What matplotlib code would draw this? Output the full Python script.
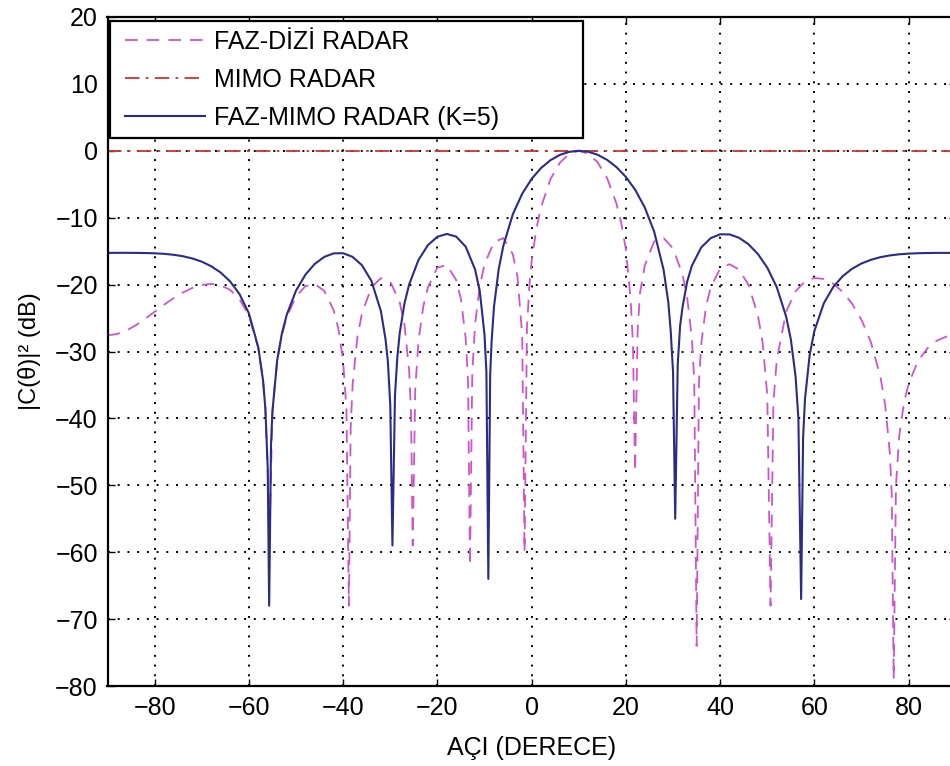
import matplotlib
matplotlib.use('Agg')
import matplotlib.pyplot as plt
from matplotlib.patches import Rectangle

plt.rcParams['font.family'] = ['Liberation Sans', 'DejaVu Sans']

# FAZ-DIZI RADAR (magenta, dashed)
angle_faz_dizi = [-90, -88, -86, -84, -82, -80, -78, -76, -74, -72, -70, -68, -66, -64, -62, -60, -58, -57, -56.5, -56,
                  -55.7, -55, -54, -53, -52, -50, -48, -46, -44, -42, -41, -40, -39.3, -38.78, -38.4, -38, -37, -36,
                  -34, -32, -30, -28, -27, -26, -25.6, -25.24, -24.7, -24, -23, -22, -20, -18, -16, -15, -14, -13.5,
                  -13.08, -12.6, -12, -11, -10, -8, -6, -4, -3, -2, -1.51, -1, -0.5, 0, 1, 2, 4, 6, 8, 10, 12, 14,
                  16, 18, 19, 20, 21, 21.5, 21.94, 22.5, 23, 24, 26, 28, 30, 32, 33, 34, 34.5, 35.01, 35.5, 36, 37,
                  38, 40, 42, 44, 46, 48, 49, 50, 50.69, 51.3, 52, 54, 56, 58, 60, 62, 64, 66, 68, 70, 72, 74, 75,
                  76, 76.4, 76.82, 77.3, 78, 79, 80, 82, 84, 86, 88, 90]
gain_faz_dizi = [-27.58, -27.40, -26.87, -26.08, -25.11, -24.06, -23.01, -22.04, -21.18, -20.50, -20.05, -19.89, -20.10,
                 -20.78, -22.16, -24.66, -29.51, -34.32, -38.55, -47.49, -60.0, -38.95, -31.41, -27.49, -24.92, -21.77,
                 -20.23, -19.93, -20.94, -23.85, -26.62, -31.49, -38.65, -68.0, -41.37, -35.05, -27.95, -24.27, -20.42,
                 -19.04, -19.57, -22.62, -25.94, -32.8, -39.14, -59.0, -35.62, -28.33, -23.28, -20.38, -17.46, -17.07,
                 -19.34, -22.19, -27.99, -34.39, -62.0, -33.23, -25.91, -20.19, -16.96, -13.65, -13.05, -15.45, -18.84,
                 -27.61, -60.0, -26.54, -20.29, -16.52, -11.65, -8.42, -4.23, -1.77, -0.43, 0.0, -0.42, -1.72, -4.06,
                 -7.91, -10.75, -14.78, -22.23, -28.82, -48.0, -26.73, -21.19, -17.16, -13.53, -13.05, -14.58, -18.46,
                 -21.94, -28.06, -34.21, -74.0, -34.55, -28.78, -23.26, -20.37, -17.61, -16.95, -17.75, -20.03, -24.57,
                 -28.62, -36.55, -68.0, -37.66, -31.31, -24.05, -20.99, -19.53, -19.01, -19.15, -19.86, -21.09, -22.85,
                 -25.28, -28.64, -33.78, -37.87, -45.15, -51.18, -79.0, -50.02, -42.6, -37.66, -34.78, -31.40, -29.50,
                 -28.37, -27.77, -27.58]

# MIMO RADAR (red, dash-dot)
angle_mimo = [-90, 90]
gain_mimo = [0, 0]

# FAZ-MIMO RADAR (K=5) (blue, solid)
angle_faz_mimo = [-90, -88, -86, -84, -82, -80, -78, -76, -74, -72, -70, -68, -66, -64, -62, -60, -58, -57, -56.5, -56,
                  -55.7, -55.3, -55, -54, -53, -52, -50, -48, -46, -44, -42, -40, -38, -36, -34, -32, -31, -30.5, -30,
                  -29.54, -29, -28.5, -28, -27, -26, -24, -22, -20, -18, -16, -14, -12, -11, -10, -9.6, -9.19, -8.8,
                  -8.5, -8, -7, -6, -4, -2, 0, 2, 4, 6, 8, 10, 12, 14, 16, 18, 20, 22, 24, 26, 28, 29, 29.5, 30,
                  30.46, 31, 31.5, 32, 33, 34, 36, 38, 40, 42, 44, 46, 48, 50, 52, 54, 55, 56, 56.6, 57.18, 57.6, 58,
                  59, 60, 62, 64, 66, 68, 70, 72, 74, 76, 78, 80, 82, 84, 86, 88, 90]
gain_faz_mimo = [-15.26, -15.25, -15.25, -15.26, -15.28, -15.32, -15.40, -15.54, -15.76, -16.09, -16.57, -17.25, -18.19,
                 -19.51, -21.40, -24.29, -29.40, -34.29, -38.54, -47.5, -68.0, -43.76, -38.93, -31.33, -27.32, -24.58,
                 -20.90, -18.51, -16.89, -15.86, -15.33, -15.31, -15.85, -17.11, -19.45, -23.93, -28.20, -31.55, -38.0,
                 -59.0, -36.55, -30.86, -27.27, -22.87, -19.99, -16.30, -14.09, -12.85, -12.43, -12.83, -14.33, -17.74,
                 -21.02, -27.50, -33.08, -64.0, -33.51, -28.55, -23.37, -17.73, -14.17, -9.50, -6.41, -4.19, -2.57,
                 -1.40, -0.61, -0.15, 0.0, -0.14, -0.59, -1.35, -2.44, -3.91, -5.86, -8.47, -12.09, -17.80, -22.66,
                 -26.86, -33.02, -55.0, -31.86, -26.17, -23.44, -19.56, -17.18, -14.43, -13.05, -12.48, -12.50, -13.00,
                 -13.96, -15.42, -17.47, -20.36, -24.78, -28.20, -33.71, -40.04, -67.0, -42.85, -37.1, -30.46, -26.91,
                 -22.78, -20.35, -18.74, -17.63, -16.84, -16.29, -15.90, -15.64, -15.47, -15.37, -15.31, -15.28,
                 -15.26, -15.26, -15.26]

labels = ['FAZ-DİZİ RADAR', 'MIMO RADAR', 'FAZ-MIMO RADAR (K=5)']
xticks = [-80, -60, -40, -20, 0, 20, 40, 60, 80]
yticks = [-80, -70, -60, -50, -40, -30, -20, -10, 0, 10, 20]

W, H = 950, 766
fig = plt.figure(figsize=(W / 100, H / 100), dpi=100)
# axes run past the right edge of the picture, like the cropped original
ax = fig.add_axes([107.5 / W, 80 / H, 848.3 / W, 669 / H])

ax.plot(angle_faz_dizi, gain_faz_dizi, color='#cc55cc', linestyle=(0, (7, 5)), linewidth=1.3, label=labels[0])
ax.plot(angle_mimo, gain_mimo, color='#cc3333', linestyle=(0, (8, 3.5, 1.5, 3.5)), linewidth=1.3, label=labels[1])
ax.plot(angle_faz_mimo, gain_faz_mimo, color='#2b2b88', linestyle='-', linewidth=1.5, label=labels[2])

ax.set_xlim(-90, 90)
ax.set_ylim(-80, 20)
ax.set_xticks(xticks)
ax.set_yticks(yticks)
ax.grid(True, color='black', linestyle=(0, (1, 4)), linewidth=1.4)
ax.set_axisbelow(True)
ax.tick_params(direction='in', top=True, right=True, length=5, width=1, labelsize=18, pad=7)
for sp in ax.spines.values():
    sp.set_linewidth(1.6)

ax.set_xlabel('AÇI (DERECE)', fontsize=18)
ax.xaxis.set_label_coords(0.5, -0.074)
ax.set_ylabel('|C(θ)|² (dB)', fontsize=17)
ax.yaxis.set_label_coords(-0.078, 0.5)

# legend box drawn by hand so it has the same size as the original
box = Rectangle((110 / W, (H - 138) / H), 473 / W, 117 / H, transform=fig.transFigure,
                facecolor='white', edgecolor='black', linewidth=1.6, zorder=4, clip_on=False)
ax.add_patch(box)
leg = ax.legend(loc='upper left', bbox_to_anchor=(125 / W, (H - 30) / H), bbox_transform=fig.transFigure,
                frameon=False, borderpad=0, borderaxespad=0, handlelength=3.2, handletextpad=0.36,
                labelspacing=0.55, fontsize=18)
leg.set_zorder(5)

fig.savefig('out.png', dpi=100)
